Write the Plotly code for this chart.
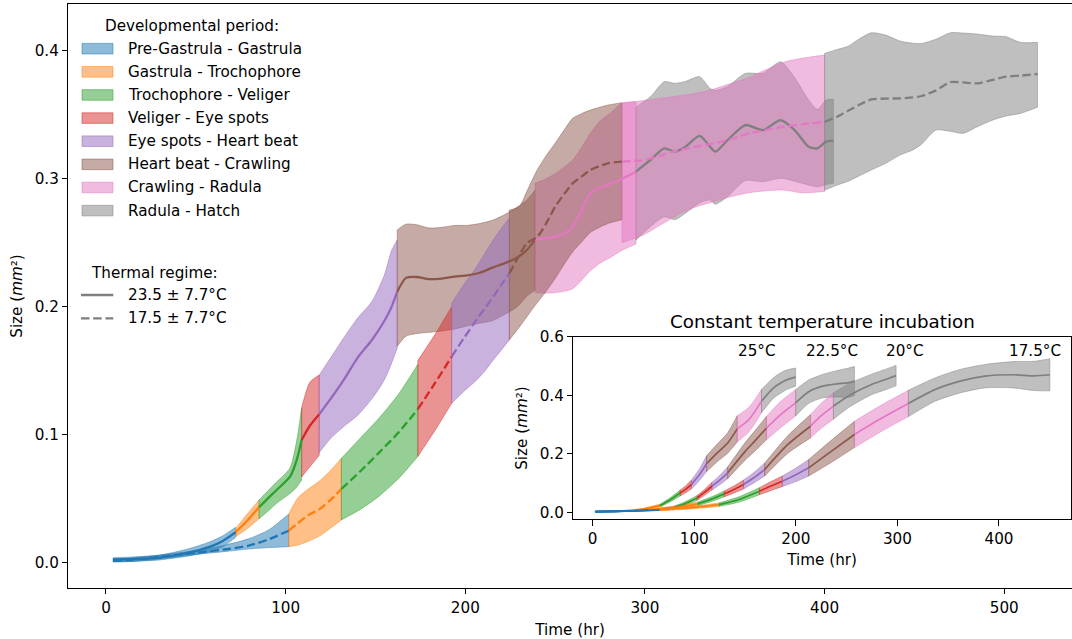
import plotly.graph_objects as go

W, H = 1072, 639

STAGES = [
    "Pre-Gastrula - Gastrula", "Gastrula - Trochophore", "Trochophore - Veliger",
    "Veliger - Eye spots", "Eye spots - Heart beat", "Heart beat - Crawling",
    "Crawling - Radula", "Radula - Hatch",
]
STAGE_RGB = [
    (31, 119, 180), (255, 127, 14), (44, 160, 44), (214, 39, 40),
    (148, 103, 189), (140, 86, 75), (227, 119, 194), (127, 127, 127),
]
REGIMES = ["23.5 \u00b1 7.7\u00b0C", "17.5 \u00b1 7.7\u00b0C"]

# ---- fluctuating regime 23.5 +/- 7.7 C : per stage time (hr), mean size, band (mm^2)
warm_t = [
    [3.9, 15, 30, 45, 58, 65, 72.2],
    [72.2, 78, 85.2],
    [85.2, 90, 95, 102.4, 106.1, 108.9],
    [108.9, 113.5, 118.7],
    [118.7, 125, 132, 140, 148, 155, 159, 162.1],
    [162.1, 167, 173, 180, 187, 194, 201, 208, 215, 222, 229, 234, 238.8],
    [238.8, 245, 250, 255, 259.8, 265, 269.6, 275, 281.4, 287.2, 295],
    [295, 303, 310.8, 316.7, 322.5, 330.4, 336.2, 339.2, 346, 355.9, 365.7, 375.5, 383.3, 391.1, 396, 400.9, 404.9],
]
warm_mean = [
    [0.0025, 0.0028, 0.0040, 0.0075, 0.0125, 0.017, 0.0238],
    [0.0238, 0.032, 0.0433],
    [0.0433, 0.050, 0.0568, 0.0672, 0.080, 0.0959],
    [0.0959, 0.107, 0.116],
    [0.116, 0.128, 0.142, 0.160, 0.174, 0.189, 0.200, 0.2117],
    [0.2117, 0.2225, 0.2232, 0.2215, 0.222, 0.2235, 0.2245, 0.2265, 0.2305, 0.234, 0.2385, 0.244, 0.252],
    [0.252, 0.2535, 0.2547, 0.257, 0.2625, 0.276, 0.2886, 0.293, 0.2964, 0.300, 0.3055],
    [0.3055, 0.3146, 0.3237, 0.3211, 0.325, 0.3334, 0.325, 0.3211, 0.3302, 0.3419, 0.338, 0.3458, 0.338, 0.325, 0.3237, 0.329, 0.3297],
]
warm_lo = [
    [0.0008, 0.001, 0.0022, 0.005, 0.0086, 0.0125, 0.0198],
    [0.0205, 0.026, 0.0344],
    [0.0344, 0.040, 0.0464, 0.054, 0.059, 0.0646],
    [0.067, 0.075, 0.084],
    [0.086, 0.097, 0.106, 0.115, 0.128, 0.143, 0.156, 0.1675],
    [0.169, 0.177, 0.179, 0.180, 0.181, 0.1825, 0.185, 0.187, 0.189, 0.194, 0.200, 0.2078, 0.213],
    [0.211, 0.2105, 0.211, 0.212, 0.214, 0.221, 0.228, 0.234, 0.239, 0.244, 0.249],
    [0.252, 0.2625, 0.2703, 0.268, 0.273, 0.281, 0.2833, 0.280, 0.2860, 0.2985, 0.2976, 0.3003, 0.298, 0.2951, 0.2937, 0.2955, 0.2964],
]
warm_hi = [
    [0.0038, 0.0045, 0.006, 0.0105, 0.0164, 0.021, 0.0277],
    [0.0265, 0.037, 0.049],
    [0.049, 0.056, 0.063, 0.074, 0.095, 0.121],
    [0.121, 0.141, 0.1466],
    [0.1466, 0.160, 0.175, 0.191, 0.204, 0.225, 0.244, 0.252],
    [0.260, 0.2645, 0.264, 0.2615, 0.262, 0.2635, 0.2635, 0.265, 0.2675, 0.272, 0.278, 0.283, 0.291],
    [0.2964, 0.300, 0.304, 0.309, 0.3146, 0.325, 0.3354, 0.345, 0.352, 0.359, 0.360],
    [0.356, 0.364, 0.3758, 0.3745, 0.376, 0.3797, 0.3706, 0.369, 0.372, 0.3823, 0.3823, 0.3914, 0.379, 0.3615, 0.3542, 0.3615, 0.362],
]

# ---- fluctuating regime 17.5 +/- 7.7 C
cold_t = [
    [4.1, 15, 30, 50, 67, 80, 91, 101.7],
    [101.7, 107, 113, 119, 125, 131],
    [131, 142, 152, 163, 173.6],
    [173.6, 183, 192.4],
    [192.4, 199, 206.3, 211, 215.6, 220, 224.5],
    [224.5, 230, 234.2, 240, 245, 250, 255, 259.8, 265, 269.6, 279.4, 287.2],
    [287.2, 299, 308.8, 318.7, 328.4, 338.2, 348, 357.8, 367, 377.4, 387.2, 400],
    [400, 407, 413, 419, 426, 434, 442, 449, 454, 462, 470, 477, 485, 493, 501, 509, 518.5],
]
cold_mean = [
    [0.0015, 0.0025, 0.0045, 0.0078, 0.0105, 0.0135, 0.0185, 0.025],
    [0.025, 0.031, 0.0375, 0.042, 0.049, 0.0576],
    [0.0576, 0.072, 0.086, 0.102, 0.12],
    [0.12, 0.14, 0.161],
    [0.161, 0.175, 0.190, 0.199, 0.2078, 0.217, 0.226],
    [0.226, 0.24, 0.2495, 0.2545, 0.265, 0.278, 0.288, 0.2964, 0.302, 0.3068, 0.312, 0.3133],
    [0.3133, 0.3146, 0.318, 0.3224, 0.325, 0.3276, 0.331, 0.3354, 0.338, 0.3406, 0.3425, 0.3445],
    [0.3445, 0.3484, 0.353, 0.3575, 0.362, 0.3625, 0.3628, 0.3635, 0.3646, 0.369, 0.3755, 0.3752, 0.3745, 0.377, 0.3797, 0.3805, 0.3818],
]
cold_lo = [
    [0.0005, 0.001, 0.003, 0.0065, 0.0088, 0.0108, 0.0118, 0.0125],
    [0.0125, 0.0138, 0.017, 0.021, 0.027, 0.0334],
    [0.0334, 0.042, 0.052, 0.066, 0.083],
    [0.083, 0.103, 0.1245],
    [0.1245, 0.1335, 0.1427, 0.150, 0.1584, 0.166, 0.174],
    [0.174, 0.184, 0.192, 0.203, 0.212, 0.222, 0.233, 0.243, 0.251, 0.258, 0.265, 0.268],
    [0.25, 0.256, 0.264, 0.272, 0.278, 0.282, 0.286, 0.289, 0.2905, 0.2911, 0.289, 0.29],
    [0.291, 0.295, 0.298, 0.302, 0.3068, 0.312, 0.3185, 0.3224, 0.327, 0.338, 0.337, 0.3354, 0.3406, 0.3455, 0.349, 0.351, 0.3558],
]
cold_hi = [
    [0.0028, 0.0038, 0.006, 0.0095, 0.014, 0.019, 0.026, 0.038],
    [0.038, 0.051, 0.058, 0.064, 0.072, 0.0815],
    [0.0815, 0.098, 0.113, 0.132, 0.155],
    [0.158, 0.178, 0.2],
    [0.2027, 0.217, 0.2313, 0.242, 0.2521, 0.261, 0.269],
    [0.2755, 0.278, 0.29, 0.3068, 0.318, 0.3277, 0.338, 0.3472, 0.351, 0.3536, 0.3575, 0.3594],
    [0.359, 0.361, 0.3628, 0.3648, 0.3667, 0.370, 0.3745, 0.379, 0.385, 0.391, 0.394, 0.3966],
    [0.3979, 0.401, 0.4035, 0.409, 0.414, 0.4122, 0.4075, 0.4058, 0.4057, 0.409, 0.414, 0.4138, 0.413, 0.4115, 0.4109, 0.4065, 0.4065],
]

# ---- constant temperature incubations: time, mean, sd, stage boundaries
const_labels = ["25\u00b0C", "22.5\u00b0C", "20\u00b0C", "17.5\u00b0C"]
const_label_t = [161.4, 235.2, 307.0, 435.2]

t25 = [2.5, 15, 25, 37.6, 50, 66.4, 76, 86.1, 92, 97.2, 105.2, 112.1, 122.6, 132.9, 142.3, 153.8, 166.2, 178, 185, 191.9, 199.8]
m25 = [0.002, 0.003, 0.004, 0.006, 0.011, 0.023, 0.042, 0.066, 0.08, 0.095, 0.129, 0.166, 0.203, 0.237, 0.285, 0.317, 0.380, 0.425, 0.442, 0.454, 0.462]
s25 = [0.001, 0.001, 0.0015, 0.002, 0.003, 0.005, 0.007, 0.01, 0.012, 0.015, 0.02, 0.027, 0.03, 0.035, 0.045, 0.042, 0.04, 0.035, 0.035, 0.033, 0.031]
b25 = [2.5, 37.6, 66.4, 86.1, 97.2, 112.1, 142.3, 166.2, 199.8]

t22 = [2.5, 15, 30, 45, 62, 79.9, 91, 102.8, 110, 117.3, 125, 132.9, 150.3, 160, 171.1, 185, 199.8, 212.6, 226.5, 240.4, 250.8, 257.7]
m22 = [0.002, 0.003, 0.004, 0.006, 0.01, 0.017, 0.03, 0.049, 0.068, 0.089, 0.11, 0.135, 0.209, 0.245, 0.288, 0.334, 0.374, 0.412, 0.431, 0.439, 0.442, 0.448]
s22 = [0.001, 0.001, 0.0015, 0.002, 0.003, 0.004, 0.006, 0.008, 0.01, 0.013, 0.016, 0.02, 0.03, 0.035, 0.04, 0.045, 0.045, 0.04, 0.04, 0.045, 0.05, 0.05]
b22 = [2.5, 45, 79.9, 102.8, 117.3, 132.9, 171.1, 199.8, 257.7]

t20 = [2.5, 20, 40, 55, 80, 103.5, 117, 129.5, 139, 148.5, 159, 169.3, 191.9, 214.4, 225, 237, 253.8, 274.6, 288.4, 298.7]
m20 = [0.002, 0.003, 0.005, 0.008, 0.016, 0.029, 0.045, 0.063, 0.078, 0.095, 0.119, 0.146, 0.231, 0.294, 0.33, 0.363, 0.402, 0.437, 0.454, 0.467]
s20 = [0.001, 0.001, 0.0015, 0.002, 0.004, 0.006, 0.008, 0.01, 0.012, 0.015, 0.018, 0.022, 0.03, 0.04, 0.043, 0.045, 0.04, 0.035, 0.035, 0.035]
b20 = [2.5, 55, 103.5, 129.5, 148.5, 169.3, 214.4, 237, 298.7]

t17 = [2.5, 20, 45, 66, 95, 124.2, 143.3, 164.1, 175, 186.7, 200, 212.6, 235.2, 257.7, 282, 310.8, 337.5, 361.7, 386, 413.8, 434.5, 450.1]
m17 = [0.002, 0.003, 0.005, 0.008, 0.015, 0.026, 0.043, 0.072, 0.089, 0.106, 0.128, 0.152, 0.209, 0.266, 0.317, 0.372, 0.42, 0.448, 0.465, 0.47, 0.466, 0.47]
s17 = [0.001, 0.001, 0.0015, 0.002, 0.004, 0.006, 0.009, 0.012, 0.015, 0.018, 0.023, 0.028, 0.038, 0.045, 0.045, 0.045, 0.04, 0.04, 0.04, 0.045, 0.05, 0.055]
b17 = [2.5, 66, 124.2, 164.1, 186.7, 212.6, 257.7, 310.8, 450.1]

# ------------------------------------------------------------------
FONT = "DejaVu Sans"
TXT_PX = 15.2      # 10 pt text
TITLE_PX = 18.3    # 12 pt text
DASH = "8.5px,3.7px"


def rgba(rgb, a):
    return "rgba(%d,%d,%d,%s)" % (rgb[0], rgb[1], rgb[2], a)


def hexc(rgb):
    return "#%02x%02x%02x" % rgb


fig = go.Figure()


def add_band(t, lo, hi, rgb, xa, ya):
    edge = dict(color=rgba(rgb, 0.5), width=0.9, shape="spline", smoothing=0.7)
    common = dict(mode="lines", hoverinfo="skip", showlegend=False, xaxis=xa, yaxis=ya)
    fig.add_trace(go.Scatter(x=t, y=lo, line=edge, **common))
    fig.add_trace(go.Scatter(x=t, y=hi, line=edge, fill="tonexty",
                             fillcolor=rgba(rgb, 0.5), **common))
    fig.add_trace(go.Scatter(x=[t[0], t[0], None, t[-1], t[-1]],
                             y=[lo[0], hi[0], None, lo[-1], hi[-1]],
                             line=dict(color=rgba(rgb, 0.5), width=0.9), **common))


def add_mean(t, m, rgb, xa, ya, width, dash="solid"):
    fig.add_trace(go.Scatter(x=t, y=m, mode="lines", hoverinfo="skip", showlegend=False,
                             line=dict(color=hexc(rgb), width=width, dash=dash,
                                       shape="spline", smoothing=0.7),
                             xaxis=xa, yaxis=ya))


# main panel: bands first, then mean curves
for ts, los, his in ((warm_t, warm_lo, warm_hi), (cold_t, cold_lo, cold_hi)):
    for k in range(len(STAGES)):
        add_band(ts[k], los[k], his[k], STAGE_RGB[k], "x", "y")
for ts, ms, dash in ((warm_t, warm_mean, "solid"), (cold_t, cold_mean, DASH)):
    for k in range(len(STAGES)):
        add_mean(ts[k], ms[k], STAGE_RGB[k], "x", "y", 2.3, dash)


# inset panel
def split(t, vals, bounds):
    out = []
    for k in range(len(bounds) - 1):
        i0, i1 = t.index(bounds[k]), t.index(bounds[k + 1])
        out.append([v for v in vals[i0:i1 + 1]])
    return out


const_series = [(t25, m25, s25, b25), (t22, m22, s22, b22), (t20, m20, s20, b20), (t17, m17, s17, b17)]
for t, m, s, b in const_series:
    lo = [mi - si for mi, si in zip(m, s)]
    hi = [mi + si for mi, si in zip(m, s)]
    for k, (ts, ls, hs) in enumerate(zip(split(t, t, b), split(t, lo, b), split(t, hi, b))):
        add_band(ts, ls, hs, STAGE_RGB[k], "x2", "y2")
for t, m, s, b in const_series:
    for k, (ts, ms) in enumerate(zip(split(t, t, b), split(t, m, b))):
        add_mean(ts, ms, STAGE_RGB[k], "x2", "y2", 1.7)


# ------------------------------------------------------------------
def px(x):
    return x / W


def py(y):
    return 1 - y / H


axis_common = dict(showgrid=False, zeroline=False, showline=True, linecolor="black",
                   linewidth=1.2, ticks="outside", ticklen=5.3, tickwidth=1.2,
                   tickcolor="black", automargin=False,
                   tickfont=dict(family=FONT, size=TXT_PX, color="black"))
title_font = dict(family=FONT, size=TXT_PX, color="black")
size_title = "Size (<i>mm</i>\u00b2)"

fig.update_layout(
    width=W, height=H, margin=dict(l=0, r=0, t=0, b=0, pad=0, autoexpand=False),
    paper_bgcolor="white", plot_bgcolor="white", showlegend=False,
    font=dict(family=FONT, size=TXT_PX, color="black"),
    xaxis=dict(domain=[px(68.3), 1.0], range=[-20.98, 537.7], mirror=True,
               tickvals=[0, 100, 200, 300, 400, 500],
               title=dict(text="Time (hr)", font=title_font, standoff=11), **axis_common),
    yaxis=dict(domain=[py(588), py(4)], range=[-0.01977, 0.43648], mirror=False,
               tickvals=[0, 0.1, 0.2, 0.3, 0.4], tickformat=".1f",
               title=dict(text=size_title, font=title_font, standoff=8), **axis_common),
    xaxis2=dict(domain=[px(573.3), px(1071)], range=[-19.1, 470.9], mirror=True,
                anchor="y2", tickvals=[0, 100, 200, 300, 400],
                title=dict(text="Time (hr)", font=title_font, standoff=7.4), **axis_common),
    yaxis2=dict(domain=[py(519.3), py(336.7)], range=[-0.0239, 0.6], mirror=True,
                anchor="x2", tickvals=[0, 0.2, 0.4, 0.6], tickformat=".1f",
                title=dict(text=size_title, font=title_font, standoff=8), **axis_common),
)

ann = []


def text(x, y, s, size=TXT_PX, xanchor="center", ref=("paper", "paper")):
    ann.append(dict(x=x, y=y, xref=ref[0], yref=ref[1], text=s, showarrow=False,
                    xanchor=xanchor, yanchor="middle",
                    font=dict(family=FONT, size=size, color="black")))


text(px(822.2), py(322), "Constant temperature incubation", size=TITLE_PX)
for lab, tx in zip(const_labels, const_label_t):
    text(tx, 0.552, lab, ref=("x2", "y2"))

# legend: developmental period
shapes = []
text(px(191.5), py(25.5), "Developmental period:")
row0, step = 48.7, 23.13
for k, name in enumerate(STAGES):
    yc = row0 + k * step
    shapes.append(dict(type="rect", xref="paper", yref="paper",
                       x0=px(82), x1=px(113), y0=py(yc + 5.3), y1=py(yc - 5.3),
                       fillcolor=rgba(STAGE_RGB[k], 0.5),
                       line=dict(color=rgba(STAGE_RGB[k], 0.5), width=1)))
    text(px(126.3), py(yc), name, xanchor="left")

# legend: thermal regime
text(px(154), py(272.5), "Thermal regime:")
for k, (name, dash) in enumerate(zip(REGIMES, ["solid", DASH])):
    yc = 295 + k * 23.3
    shapes.append(dict(type="line", xref="paper", yref="paper",
                       x0=px(81), x1=px(113.3), y0=py(yc), y1=py(yc),
                       line=dict(color="#7f7f7f", width=2.3, dash=dash)))
    text(px(125.7), py(yc), name, xanchor="left")

fig.update_layout(annotations=ann, shapes=shapes)
fig.write_html("out.html")
